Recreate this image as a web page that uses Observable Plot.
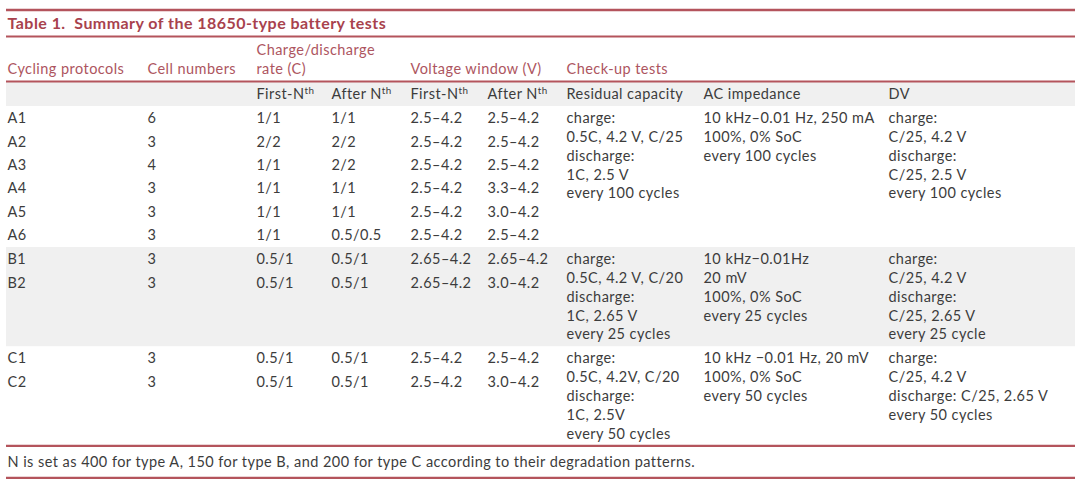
<!DOCTYPE html>
<html><head><meta charset="utf-8">
<script src="https://cdn.jsdelivr.net/npm/d3@7"></script>
<script src="https://cdn.jsdelivr.net/npm/@observablehq/plot@0.6"></script>
<style>body{margin:0;background:#fff} svg text{white-space:pre;letter-spacing:0.45px} svg text.ttl{letter-spacing:0.12px}</style>
</head><body><div id="chart"></div>
<script>
// ---------- DATA ----------
const tableTitle = "Table 1.  Summary of the 18650-type battery tests";
const headerCols = [0, 1, 2, 4, 6];
const headerLabels = [["Cycling protocols"], ["Cell numbers"], ["Charge/discharge", "rate (C)"], ["Voltage window (V)"], ["Check-up tests"]];
const subHeaderCols = [2, 3, 4, 5, 6, 7, 8];
const subHeaderLabels = ["First-N^th", "After N^th", "First-N^th", "After N^th", "Residual capacity", "AC impedance", "DV"];

const protocols   = ["A1", "A2", "A3", "A4", "A5", "A6", "B1", "B2", "C1", "C2"];
const cellNumbers = ["6", "3", "4", "3", "3", "3", "3", "3", "3", "3"];
const rateFirst   = ["1/1", "2/2", "1/1", "1/1", "1/1", "1/1", "0.5/1", "0.5/1", "0.5/1", "0.5/1"];
const rateAfter   = ["1/1", "2/2", "2/2", "1/1", "1/1", "0.5/0.5", "0.5/1", "0.5/1", "0.5/1", "0.5/1"];
const voltFirst   = ["2.5–4.2", "2.5–4.2", "2.5–4.2", "2.5–4.2", "2.5–4.2", "2.5–4.2", "2.65–4.2", "2.65–4.2", "2.5–4.2", "2.5–4.2"];
const voltAfter   = ["2.5–4.2", "2.5–4.2", "2.5–4.2", "3.3–4.2", "3.0–4.2", "2.5–4.2", "2.65–4.2", "3.0–4.2", "2.5–4.2", "3.0–4.2"];

const groupNames = ["A", "B", "C"];
const residualCapacity = [
  ["charge:", "0.5C, 4.2 V, C/25", "discharge:", "1C, 2.5 V", "every 100 cycles"],
  ["charge:", "0.5C, 4.2 V, C/20", "discharge:", "1C, 2.65 V", "every 25 cycles"],
  ["charge:", "0.5C, 4.2V, C/20", "discharge:", "1C, 2.5V", "every 50 cycles"]
];
const acImpedance = [
  ["10 kHz–0.01 Hz, 250 mA", "100%, 0% SoC", "every 100 cycles"],
  ["10 kHz−0.01Hz", "20 mV", "100%, 0% SoC", "every 25 cycles"],
  ["10 kHz −0.01 Hz, 20 mV", "100%, 0% SoC", "every 50 cycles"]
];
const dvTest = [
  ["charge:", "C/25, 4.2 V", "discharge:", "C/25, 2.5 V", "every 100 cycles"],
  ["charge:", "C/25, 4.2 V", "discharge:", "C/25, 2.65 V", "every 25 cycle"],
  ["charge:", "C/25, 4.2 V", "discharge: C/25, 2.65 V", "every 50 cycles"]
];
const footnote = "N is set as 400 for type A, 150 for type B, and 200 for type C according to their degradation patterns.";

// ---------- LAYOUT ----------
const W = 1080, H = 485, xLeft = 6, xRight = 1075;
const colX = [7, 147, 256, 331, 410, 487, 566, 703, 888];
const rowH = 23.4, lineH = 18.8, padTop = 12;
const yTopRule = 9.5, yTitle = 23, yTitleRule = 36, yHeadLast = 69, yHeadRule = 81, ySubBottom = 106;
const red = "#b4545c", titleRed = "#a8424d", headRed = "#ad5560", ink = "#3c3c3c", band = "#f0f0f0";
const font = "Lato", fs = 14.5;

const cells = [], bands = [{y1: yHeadRule, y2: ySubBottom}];
let y0 = ySubBottom;
const colValues = [protocols, cellNumbers, rateFirst, rateAfter, voltFirst, voltAfter];
groupNames.forEach((g, gi) => {
  const idx = protocols.map((p, i) => i).filter(i => protocols[i][0] === g);
  idx.forEach((i, r) => {
    colValues.forEach((arr, c) => cells.push({x: colX[c], y: y0 + padTop + r * rowH, text: arr[i]}));
  });
  [residualCapacity, acImpedance, dvTest].forEach((col, k) => {
    col[gi].forEach((t, j) => cells.push({x: colX[6 + k], y: y0 + padTop + j * lineH, text: t}));
  });
  const nLines = Math.max(residualCapacity[gi].length, acImpedance[gi].length, dvTest[gi].length);
  const h = Math.max(idx.length * rowH + 0.6, 2 * padTop + (nLines - 1) * lineH);
  if (gi % 2 === 1) bands.push({y1: y0, y2: y0 + h});
  y0 += h;
});
const yEnd = y0;
const rules = [
  {y: yTopRule, w: 2.6}, {y: yTitleRule, w: 2.2}, {y: yHeadRule, w: 1.8},
  {y: yEnd, w: 2.2}, {y: yEnd + 32, w: 2.2}
];
const headers = [];
headerCols.forEach((c, k) => {
  const L = headerLabels[k];
  L.forEach((t, j) => headers.push({x: colX[c], y: yHeadLast - (L.length - 1 - j) * lineH, text: t}));
});
const subHeaders = subHeaderCols.map((c, k) => ({x: colX[c], y: (yHeadRule + ySubBottom) / 2, text: subHeaderLabels[k]}));

const svg = Plot.plot({
  width: W, height: H, margin: 0,
  style: {fontFamily: font, background: "#fff"},
  x: {domain: [0, W], range: [0, W], axis: null},
  y: {domain: [0, H], range: [0, H], axis: null},
  marks: [
    Plot.rect(bands, {x1: xLeft, x2: xRight, y1: "y1", y2: "y2", fill: band}),
    Plot.ruleY(rules, {y: "y", x1: xLeft, x2: xRight, stroke: red, strokeWidth: d => d.w}),
    Plot.text([tableTitle], {x: colX[0], y: yTitle, text: d => d, textAnchor: "start", fill: titleRed, fontWeight: "bold", fontSize: 16, fontFamily: font, className: "ttl"}),
    Plot.text(headers, {x: "x", y: "y", text: "text", textAnchor: "start", fill: headRed, fontSize: fs, fontFamily: font}),
    Plot.text(subHeaders, {x: "x", y: "y", text: "text", textAnchor: "start", fill: ink, fontSize: fs, fontFamily: font}),
    Plot.text(cells, {x: "x", y: "y", text: "text", textAnchor: "start", fill: ink, fontSize: fs, fontFamily: font}),
    Plot.text([footnote], {x: colX[0], y: yEnd + 16, text: d => d, textAnchor: "start", fill: ink, fontSize: fs, fontFamily: font})
  ]
});
// superscripts
d3.select(svg).selectAll("text").each(function () {
  const t = this.textContent;
  if (!t.includes("^") || this.querySelector("tspan")) return;
  const [base, sup] = t.split("^");
  this.textContent = base;
  const ts = document.createElementNS("http://www.w3.org/2000/svg", "tspan");
  ts.setAttribute("dy", "-0.45em");
  ts.setAttribute("font-size", "0.68em");
  ts.textContent = sup;
  this.appendChild(ts);
});
document.getElementById("chart").appendChild(svg);
</script>
</body></html>
